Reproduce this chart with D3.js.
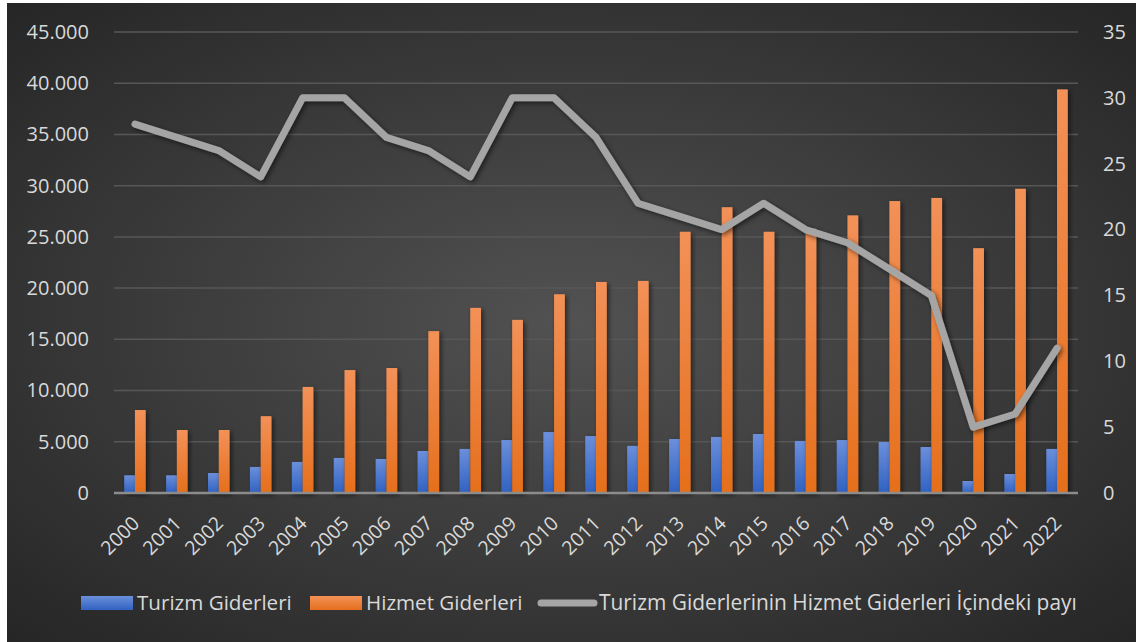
<!DOCTYPE html>
<html>
<head>
    <style>
        body { margin: 0; background: #fff; }
        svg { display: block; font-family: "Open Sans", sans-serif; }
    </style>
    <script src="https://d3js.org/d3.v7.min.js"></script>
</head>
<body>
    <svg width="1136" height="642"></svg>
    <script>

        // veriler
        var yillar = ["2000","2001","2002","2003","2004","2005","2006","2007","2008","2009","2010","2011",
                      "2012","2013","2014","2015","2016","2017","2018","2019","2020","2021","2022"];
        var turizmGiderleri = [1730,1730,1950,2540,3030,3420,3320,4100,4300,5170,5950,5560,
                               4600,5270,5470,5760,5080,5170,4980,4490,1170,1850,4300];
        var hizmetGiderleri = [8100,6150,6150,7500,10350,12000,12200,15800,18070,16900,19400,20600,
                               20700,25500,27900,25500,25800,27100,28500,28800,23900,29700,39400];
        var pay = [28,27,26,24,30,30,27,26,24,30,30,27,22,21,20,22,20,19,17,15,5,6,11];
        var solTikler = [0,5000,10000,15000,20000,25000,30000,35000,40000,45000];
        var sagTikler = [0,5,10,15,20,25,30,35];
        var seriAdlari = ["Turizm Giderleri", "Hizmet Giderleri", "Turizm Giderlerinin Hizmet Giderleri İçindeki payı"];

        var svg = d3.select("svg");
        var defs = svg.append("defs");

        // arka plan gradyanı
        var bg = defs.append("radialGradient").attr("id", "bg")
            .attr("cx", "50%").attr("cy", "50%").attr("r", "70%");
        bg.append("stop").attr("offset", "0%").attr("stop-color", "#525252");
        bg.append("stop").attr("offset", "100%").attr("stop-color", "#262626");

        function barGrad(id, ust, alt) {
            var g = defs.append("linearGradient").attr("id", id)
                .attr("x1", 0).attr("y1", 0).attr("x2", 0).attr("y2", 1);
            g.append("stop").attr("offset", "0%").attr("stop-color", ust);
            g.append("stop").attr("offset", "100%").attr("stop-color", alt);
        }
        barGrad("mavi", "#6b8fdb", "#3062c2");
        barGrad("turuncu", "#f39158", "#e56f1c");

        var golge = defs.append("filter").attr("id", "golge")
            .attr("x", "-50%").attr("y", "-20%").attr("width", "200%").attr("height", "140%");
        golge.append("feDropShadow").attr("dx", 2).attr("dy", 2).attr("stdDeviation", 2.5)
            .attr("flood-color", "#000").attr("flood-opacity", 0.55);

        svg.append("rect").attr("x", 7).attr("y", 3).attr("width", 1129).attr("height", 639)
            .attr("fill", "url(#bg)");

        var solX = 114, sagX = 1078, ustY = 32, altY = 493;

        var x = d3.scaleBand().domain(yillar).range([solX, sagX]);
        var xi = d3.scaleBand().domain([0, 1]).range([0, x.bandwidth()]).paddingInner(0).paddingOuter(0.95);
        var yL = d3.scaleLinear().domain([0, 45000]).range([altY, ustY]);
        var yR = d3.scaleLinear().domain([0, 35]).range([altY, ustY]);

        // kılavuz çizgiler
        svg.append("g").selectAll("line").data(solTikler.slice(1)).enter().append("line")
            .attr("x1", solX).attr("x2", sagX)
            .attr("y1", function(d) { return yL(d); }).attr("y2", function(d) { return yL(d); })
            .attr("stroke", "#575757").attr("stroke-width", 1.5);

        var fmt = function(d) { return d === 0 ? "0" : d3.format(",")(d).replace(/,/g, "."); };

        // sol eksen
        var solEksen = svg.append("g").attr("transform", "translate(" + (solX - 22) + ",0)")
            .call(d3.axisLeft(yL).tickValues(solTikler).tickFormat(fmt).tickSize(0));
        solEksen.select(".domain").remove();
        solEksen.selectAll("text").attr("fill", "#d9d9d9").attr("font-size", 20)
            .attr("font-family", "Open Sans");

        // sağ eksen
        var sagEksen = svg.append("g").attr("transform", "translate(" + (sagX + 22) + ",0)")
            .call(d3.axisRight(yR).tickValues(sagTikler).tickSize(0));
        sagEksen.select(".domain").remove();
        sagEksen.selectAll("text").attr("fill", "#d9d9d9").attr("font-size", 20)
            .attr("font-family", "Open Sans");

        // çubuklar
        var grup = svg.append("g").selectAll("g").data(yillar).enter().append("g")
            .attr("transform", function(d) { return "translate(" + x(d) + ",0)"; });

        grup.append("rect")
            .attr("x", xi(0)).attr("width", xi.bandwidth())
            .attr("y", function(d, i) { return yL(turizmGiderleri[i]); })
            .attr("height", function(d, i) { return altY - yL(turizmGiderleri[i]); })
            .attr("fill", "url(#mavi)").attr("filter", "url(#golge)");

        grup.append("rect")
            .attr("x", xi(1)).attr("width", xi.bandwidth())
            .attr("y", function(d, i) { return yL(hizmetGiderleri[i]); })
            .attr("height", function(d, i) { return altY - yL(hizmetGiderleri[i]); })
            .attr("fill", "url(#turuncu)").attr("filter", "url(#golge)");

        // sıfır çizgisi
        svg.append("line").attr("x1", solX).attr("x2", sagX).attr("y1", altY).attr("y2", altY)
            .attr("stroke", "#8c8c8c").attr("stroke-width", 2.5);

        // pay çizgisi
        var line = d3.line()
            .x(function(d, i) { return x(yillar[i]) + x.bandwidth() / 2; })
            .y(function(d) { return yR(d); });

        svg.append("path").datum(pay)
            .attr("d", line)
            .attr("fill", "none").attr("stroke", "#a5a5a5").attr("stroke-width", 7)
            .attr("stroke-linejoin", "round").attr("stroke-linecap", "round")
            .attr("filter", "url(#golge)");

        // x ekseni etiketleri
        svg.append("g").selectAll("text").data(yillar).enter().append("text")
            .attr("transform", function(d) {
                return "translate(" + (x(d) + x.bandwidth() / 2 - 4) + "," + (altY + 22) + ") rotate(-45)";
            })
            .attr("text-anchor", "end").attr("dy", "0.7em")
            .attr("fill", "#d9d9d9").attr("font-size", 19.5)
            .text(function(d) { return d; });

        // lejant
        var lej = svg.append("g");
        var ly = 603;
        lej.append("rect").attr("x", 81).attr("y", ly - 7).attr("width", 52).attr("height", 14).attr("fill", "url(#mavi)");
        lej.append("text").attr("x", 137).attr("y", ly).attr("dy", "0.35em")
            .attr("fill", "#d9d9d9").attr("font-size", 20.6).text(seriAdlari[0]);
        lej.append("rect").attr("x", 310).attr("y", ly - 7).attr("width", 52).attr("height", 14).attr("fill", "url(#turuncu)");
        lej.append("text").attr("x", 366).attr("y", ly).attr("dy", "0.35em")
            .attr("fill", "#d9d9d9").attr("font-size", 20.6).text(seriAdlari[1]);
        lej.append("line").attr("x1", 541).attr("x2", 594).attr("y1", ly).attr("y2", ly)
            .attr("stroke", "#a5a5a5").attr("stroke-width", 7).attr("stroke-linecap", "round");
        lej.append("text").attr("x", 599).attr("y", ly).attr("dy", "0.35em")
            .attr("fill", "#d9d9d9").attr("font-size", 20.9).text(seriAdlari[2]);

    </script>
</body>
</html>
